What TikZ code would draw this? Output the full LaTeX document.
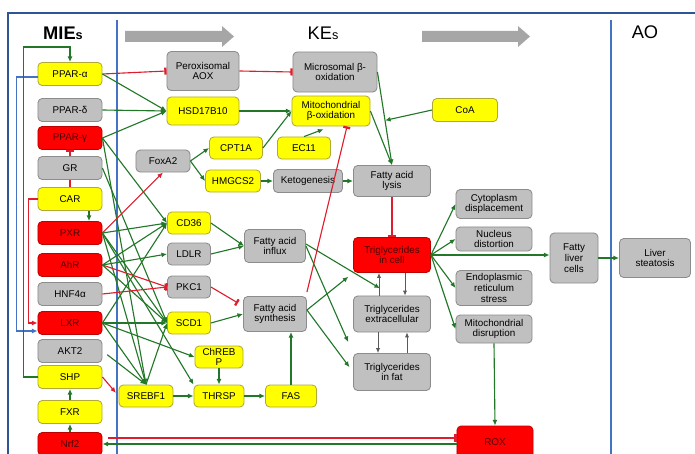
\documentclass[tikz,border=0pt]{standalone}
\usepackage{fontspec}
\setmainfont{Liberation Sans}
\usetikzlibrary{arrows.meta, positioning, calc}
\definecolor{frameblue}{RGB}{47,85,151}
\definecolor{lineblue}{RGB}{68,114,196}
\definecolor{boxyellow}{RGB}{255,255,0}
\definecolor{boxgray}{RGB}{192,192,192}
\definecolor{boxred}{RGB}{255,0,0}
\definecolor{actgreen}{RGB}{34,120,40}
\definecolor{inhred}{RGB}{222,30,45}
\definecolor{headgray}{RGB}{166,166,166}

\begin{document}
\begin{tikzpicture}[x=0.025cm, y=-0.025cm,
    kebox/.style={rectangle, rounded corners=3pt, line width=0.6pt, align=center,
        inner sep=1pt, font=\fontsize{7}{7.6}\selectfont},
    ybox/.style={kebox, draw=olive!70, fill=boxyellow},
    gbox/.style={kebox, draw=black!45, fill=boxgray},
    rbox/.style={kebox, draw=red!75!black, fill=boxred, text=black!70!red},
    mie/.style={minimum width=1.6cm, minimum height=0.575cm},
    gene/.style={minimum width=1.075cm, minimum height=0.55cm},
    act/.style={-{Latex[length=4pt,width=3.5pt]}, actgreen, line width=0.8pt},
    inh/.style={-{Bar[width=5pt,line width=1.6pt]}, inhred, line width=0.8pt},
    redact/.style={-{Latex[length=4pt,width=3.5pt]}, inhred, line width=0.8pt},
    blueact/.style={-{Latex[length=4pt,width=3.5pt]}, lineblue, line width=0.8pt},
    flow/.style={-{Latex[length=3.5pt,width=3pt]}, black!65, line width=0.6pt},
    head/.style={font=\fontsize{13}{13}\selectfont}
]
    \useasboundingbox (0,0) rectangle (695,453);
    \draw[frameblue, line width=1.6pt] (8,13) rectangle (720,480);
    \draw[lineblue, line width=1pt] (117,20) -- (117,470);
    \draw[lineblue, line width=1pt] (611,20) -- (611,470);

    % headings and big arrows
    \node[head, font=\fontsize{13}{13}\selectfont\bfseries] (miehead) at (63,33) {MIE{\fontsize{9}{9}\selectfont s}};
    \node[head] (kehead) at (323,33) {KE{\fontsize{9}{9}\selectfont s}};
    \node[head] (aohead) at (645,32) {AO};
    \fill[headgray] (125,31) -- (222,31) -- (222,26) -- (234,36.5) -- (222,47) -- (222,42) -- (125,42) -- cycle;
    \fill[headgray] (422,31) -- (518,31) -- (518,26) -- (530,36.5) -- (518,47) -- (518,42) -- (422,42) -- cycle;

    % MIEs
    \node[ybox, mie] (ppara) at (70,74)  {PPAR-α};
    \node[gbox, mie] (ppard) at (70,110) {PPAR-δ};
    \node[rbox, mie] (pparg) at (70,138) {PPAR-γ};
    \node[gbox, mie] (gr)    at (70,168) {GR};
    \node[ybox, mie] (car)   at (70,199) {CAR};
    \node[rbox, mie] (pxr)   at (70,233) {PXR};
    \node[rbox, mie] (ahr)   at (70,265) {AhR};
    \node[gbox, mie] (hnf)   at (70,294) {HNF4α};
    \node[rbox, mie] (lxr)   at (70,323) {LXR};
    \node[gbox, mie] (akt)   at (70,351) {AKT2};
    \node[ybox, mie] (shp)   at (70,377) {SHP};
    \node[ybox, mie] (fxr)   at (70,412) {FXR};
    \node[rbox, mie] (nrf)   at (70,444) {Nrf2};

    % genes
    \node[gbox, minimum width=1.8cm, minimum height=0.975cm] (aox) at (203,71) {Peroxisomal\\AOX};
    \node[ybox, minimum width=1.8cm, minimum height=0.7cm] (hsd) at (203,111) {HSD17B10};
    \node[gbox, gene, minimum width=1.35cm] (foxa) at (163,161) {FoxA2};
    \node[ybox, gene, minimum width=1.325cm] (cpt) at (236,148) {CPT1A};
    \node[ybox, gene, minimum width=1.325cm] (ec) at (304,148) {EC11};
    \node[ybox, gene, minimum width=1.375cm] (hmgcs) at (233,181) {HMGCS2};
    \node[ybox, gene] (cd36) at (189,223) {CD36};
    \node[gbox, gene] (ldlr) at (189,254) {LDLR};
    \node[gbox, gene] (pkc)  at (189,287) {PKC1};
    \node[ybox, gene] (scd)  at (189,323) {SCD1};
    \node[ybox, gene, minimum width=1.2cm] (chrebp) at (219,357) {ChREB\\P};
    \node[ybox, gene, minimum width=1.35cm] (srebf) at (146,396) {SREBF1};
    \node[ybox, gene, minimum width=1.25cm] (thrsp) at (219,396) {THRSP};
    \node[ybox, gene, minimum width=1.275cm] (fas) at (291,396) {FAS};
    \node[ybox, minimum width=1.625cm, minimum height=0.575cm] (coa) at (465,110) {CoA};

    % key events
    \node[gbox, minimum width=2.1cm, minimum height=1cm] (micro) at (335,72) {Microsomal β-\\oxidation};
    \node[ybox, minimum width=1.95cm, minimum height=0.75cm] (mito) at (331,111) {Mitochondrial\\β-oxidation};
    \node[gbox, minimum width=1.725cm, minimum height=0.575cm] (keto) at (308,181) {Ketogenesis};
    \node[gbox, minimum width=1.925cm, minimum height=0.775cm] (lysis) at (392,181) {Fatty acid\\lysis};
    \node[gbox, minimum width=1.525cm, minimum height=0.825cm] (fainf) at (275,246) {Fatty acid\\influx};
    \node[gbox, minimum width=1.575cm, minimum height=0.875cm] (fasyn) at (275,314) {Fatty acid\\synthesis};
    \node[rbox, minimum width=1.925cm, minimum height=0.875cm] (tgcell) at (392,255) {Triglycerides\\in cell};
    \node[gbox, minimum width=1.925cm, minimum height=0.9cm] (tgex) at (392,314) {Triglycerides\\extracellular};
    \node[gbox, minimum width=1.925cm, minimum height=0.925cm] (tgfat) at (392,372) {Triglycerides\\in fat};
    \node[gbox, minimum width=1.9cm, minimum height=0.725cm] (cyto) at (494,204) {Cytoplasm\\displacement};
    \node[gbox, minimum width=1.9cm, minimum height=0.6cm] (nuc) at (494,239) {Nucleus\\distortion};
    \node[gbox, minimum width=1.9cm, minimum height=0.875cm] (er) at (494,288) {Endoplasmic\\reticulum\\stress};
    \node[gbox, minimum width=1.9cm, minimum height=0.7cm] (mitod) at (494,329) {Mitochondrial\\disruption};
    \node[rbox, minimum width=1.9cm, minimum height=0.8cm] (rox) at (495,442) {ROX};
    \node[gbox, minimum width=1.2cm, minimum height=1.25cm] (liverc) at (574,258) {Fatty\\liver\\cells};
    \node[gbox, minimum width=1.775cm, minimum height=0.975cm] (steat) at (655,258) {Liver\\steatosis};

    % MIE column links
    \draw[inh] (gr.north) -- (pparg.south);
    \draw[inhred, line width=0.8pt] (gr.south) -- (car.north);
    \draw[act] ([xshift=0.475cm]car.south) -- ([xshift=0.475cm]pxr.north);
    \draw[redact] (car.west) -- ++(-9,0) |- (lxr.west);
    \draw[blueact] ([yshift=-0.075cm]ppara.west) -- ++(-21,0) |- ([yshift=-0.2cm]lxr.west);
    \draw[act] (shp.west) -- ++(-14,0) -- ++(0,-330) -| (ppara.north);
    \draw[act] (fxr.north) -- (shp.south);
    \draw[act] (nrf.north) -- (fxr.south);

    % MIEs to genes
    \draw[inh] (ppara.east) -- (aox.west);
    \draw[act] (ppara.east) -- (hsd.west);
    \draw[act] (ppard.east) -- (hsd.west);
    \draw[act] (pparg.east) -- (hsd.west);
    \draw[act] (pparg.east) -- (cd36.west);
    \draw[act] (pparg.east) -- (srebf.north);
    \draw[act] (gr.east) -- (scd.west);
    \draw[redact] (pxr.east) -- (foxa.south);
    \draw[act] (pxr.east) -- (cd36.west);
    \draw[act] (pxr.east) -- (scd.west);
    \draw[act] (pxr.east) -- (srebf.north);
    \draw[act] (pxr.east) -- (thrsp.north west);
    \draw[act] (ahr.east) -- (cd36.west);
    \draw[act] (ahr.east) -- (ldlr.west);
    \draw[inh] (ahr.east) -- (pkc.west);
    \draw[act] (ahr.east) -- (scd.west);
    \draw[inh] (hnf.east) -- (pkc.west);
    \draw[act] (lxr.east) -- (cd36.west);
    \draw[act] (lxr.east) -- (scd.west);
    \draw[act] (lxr.east) -- (chrebp.west);
    \draw[act] (lxr.east) -- (srebf.north);
    \draw[act, shorten <=0.15cm] (akt.east) -- (srebf.north);
    \draw[redact, shorten >=0.1cm] (shp.east) -- (srebf.west);
    \draw[inh, shorten <=0.15cm] ([yshift=0.15cm]nrf.east) -- ([yshift=0.15cm]nrf.east -| rox.west);
    \draw[act] (rox.west |- nrf.east) -- (nrf.east);

    % genes to key events
    \draw[inh] (aox.east) -- (micro.west);
    \draw[act] (hsd.east) -- (mito.west);
    \draw[act] (foxa.east) -- (cpt.west);
    \draw[act] (foxa.east) -- (hmgcs.west);
    \draw[act] (cpt.east) -- (mito.west);
    \draw[act, shorten >=0.2cm] (ec.north) -- (mito.south);
    \draw[act] (hmgcs.east) -- (keto.west);
    \draw[act] (keto.east) -- (lysis.west);
    \draw[act] (micro.east) -- (lysis.north);
    \draw[act] (mito.east) -- (lysis.north);
    \coordinate (coajoin) at ($(micro.east)!0.52!(lysis.north)$);
    \draw[act] (coa.west) -- (coajoin);
    \draw[act] (srebf.north) -- (scd.west);
    \draw[act] (srebf.east) -- (thrsp.west);
    \draw[act] (chrebp.south) -- (thrsp.north);
    \draw[act] (thrsp.east) -- (fas.west);
    \draw[act] (fas.north) -- (fas.north |- fasyn.south);
    \draw[act] (scd.east) -- (fasyn.west);
    \draw[inh, shorten >=0.15cm] (pkc.east) -- ([yshift=0.2cm]fasyn.west);
    \draw[act] (cd36.east) -- (fainf.west);
    \draw[act] (ldlr.east) -- (fainf.west);

    % key events
    \draw[act, shorten >=0.35cm] ([yshift=0.05cm]fainf.east) -- (tgex.north);
    \draw[act, shorten >=0.3cm] (fainf.east) -- (tgfat.north west);
    \draw[act, shorten >=0.15cm] ([yshift=0.1cm]fasyn.east) -- (tgcell.south west);
    \draw[act, shorten >=0.15cm] ([yshift=0.1cm]fasyn.east) -- (tgfat.west);
    \draw[inh] ([yshift=0.1cm]fasyn.north east) -- ([xshift=0.4cm]mito.south);
    \draw[inh] (lysis.south) -- (tgcell.north);
    \draw[flow] ([xshift=-0.325cm]tgex.north) -- ([xshift=-0.325cm]tgcell.south);
    \draw[flow] ([xshift=0.325cm]tgcell.south) -- ([xshift=0.325cm]tgex.north);
    \draw[flow] ([xshift=-0.35cm]tgex.south) -- ([xshift=-0.35cm]tgfat.north);
    \draw[flow] ([xshift=0.375cm]tgfat.north) -- ([xshift=0.375cm]tgex.south);
    \draw[act] (tgcell.east) -- (cyto.west);
    \draw[act] (tgcell.east) -- (nuc.west);
    \draw[act] (tgcell.east) -- (er.west);
    \draw[act] (tgcell.east) -- (mitod.west);
    \draw[act] (tgcell.east) -- (tgcell.east -| liverc.west);
    \draw[act] (mitod.south) -- (rox.north);
    \draw[act] (liverc.east) -- (steat.west);
\end{tikzpicture}
\end{document}
